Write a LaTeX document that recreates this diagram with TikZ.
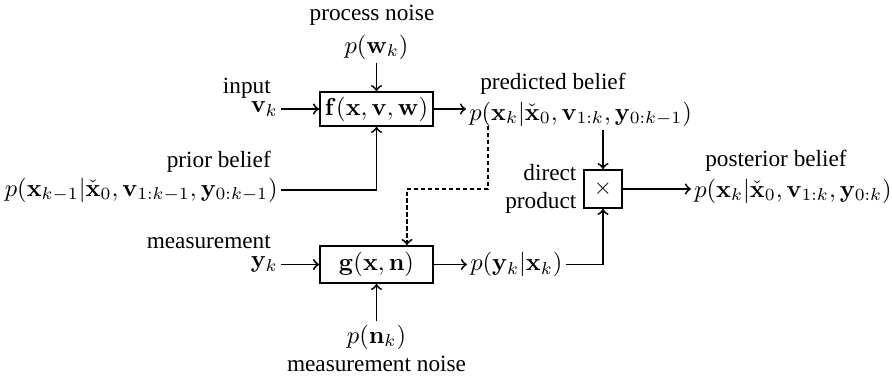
\documentclass[tikz,border=0pt]{standalone}
\usepackage[no-math]{fontspec}
\setmainfont{Liberation Serif}
\usepackage{amsmath, amssymb, graphicx}
\usetikzlibrary{arrows}
\newcommand{\fm}[1]{\scalebox{1.055}{$#1$}}

\begin{document}
\begin{tikzpicture}
    [x=0.43pt, y=-0.43pt,
    thick,
    >=to,
    block/.style={draw, inner sep=2pt, minimum width=48.6pt},
    txt/.style={inner sep=1pt},
    dotted link/.style={dash pattern=on 1.8pt off 1.2pt}]
        \useasboundingbox (0,0) rectangle (892,377);

        %% Motion model
        \node[block, minimum height=12pt] (f) at (376.5,109) {\fm{\mathbf{f}(\mathbf{x},\mathbf{v},\mathbf{w})}};
        \node[txt] (pw) at (376.5,47) {\fm{p(\mathbf{w}_k)}};
        \node[txt] (procnoise) at (372,15) {process noise};
        \node[txt, anchor=east] (vk) at (281,109) {\fm{\mathbf{v}_k}};
        \node[txt, anchor=east] (input) at (274,88) {input};
        \node[txt, anchor=east] (prior) at (281,190) {\fm{p(\mathbf{x}_{k-1}|\check{\mathbf{x}}_0,\mathbf{v}_{1:k-1},\mathbf{y}_{0:k-1})}};
        \node[txt, anchor=east] (priortxt) at (274,162) {prior belief};
        \node[txt, anchor=west] (pred) at (466,114) {\fm{p(\mathbf{x}_k|\check{\mathbf{x}}_0,\mathbf{v}_{1:k},\mathbf{y}_{0:k-1})}};
        \node[txt, anchor=west] (predtxt) at (477,84) {predicted belief};

        \draw[->] (pw) -- (f);
        \draw[->] (vk) -- (f);
        \draw[->] (prior) -| (f);
        \draw[->] (f.east) -- (f.east -| pred.west);

        %% Observation model
        \node[block, minimum height=15.9pt] (g) at (376.5,264.5) {\fm{\mathbf{g}(\mathbf{x},\mathbf{n})}};
        \node[txt] (pn) at (376.5,337) {\fm{p(\mathbf{n}_k)}};
        \node[txt] (measnoise) at (376.5,364) {measurement noise};
        \node[txt, anchor=east] (yk) at (281,264.5) {\fm{\mathbf{y}_k}};
        \node[txt, anchor=east] (meas) at (274,242) {measurement};
        \node[txt, anchor=west] (py) at (467,264.5) {\fm{p(\mathbf{y}_k|\mathbf{x}_k)}};

        \draw[->] (pn) -- (g);
        \draw[->] (yk) -- (g);
        \draw[->] (g) -- (py);

        \coordinate (d1) at (488,126);
        \coordinate (d2) at (407,189);
        \draw[->, dotted link] (d1) |- (d2) -- (d2 |- g.north);

        %% Fusion
        \node[draw, minimum size=16.3pt, inner sep=0pt] (prod) at (603,189) {$\times$};
        \node[txt, anchor=east, align=right] (direct) at ([xshift=-1.5pt]prod.west) {direct\\product};
        \node[txt, anchor=west] (post) at (691,191) {\fm{p(\mathbf{x}_k|\check{\mathbf{x}}_0,\mathbf{v}_{1:k},\mathbf{y}_{0:k})}};
        \node[txt, anchor=west] (posttxt) at (702,161) {posterior belief};

        \draw[->] (pred.south -| prod) -- (prod);
        \draw[->] (py) -| (prod);
        \draw[->] (prod.east) -- (prod.east -| post.west);
    \end{tikzpicture}
\end{document}
